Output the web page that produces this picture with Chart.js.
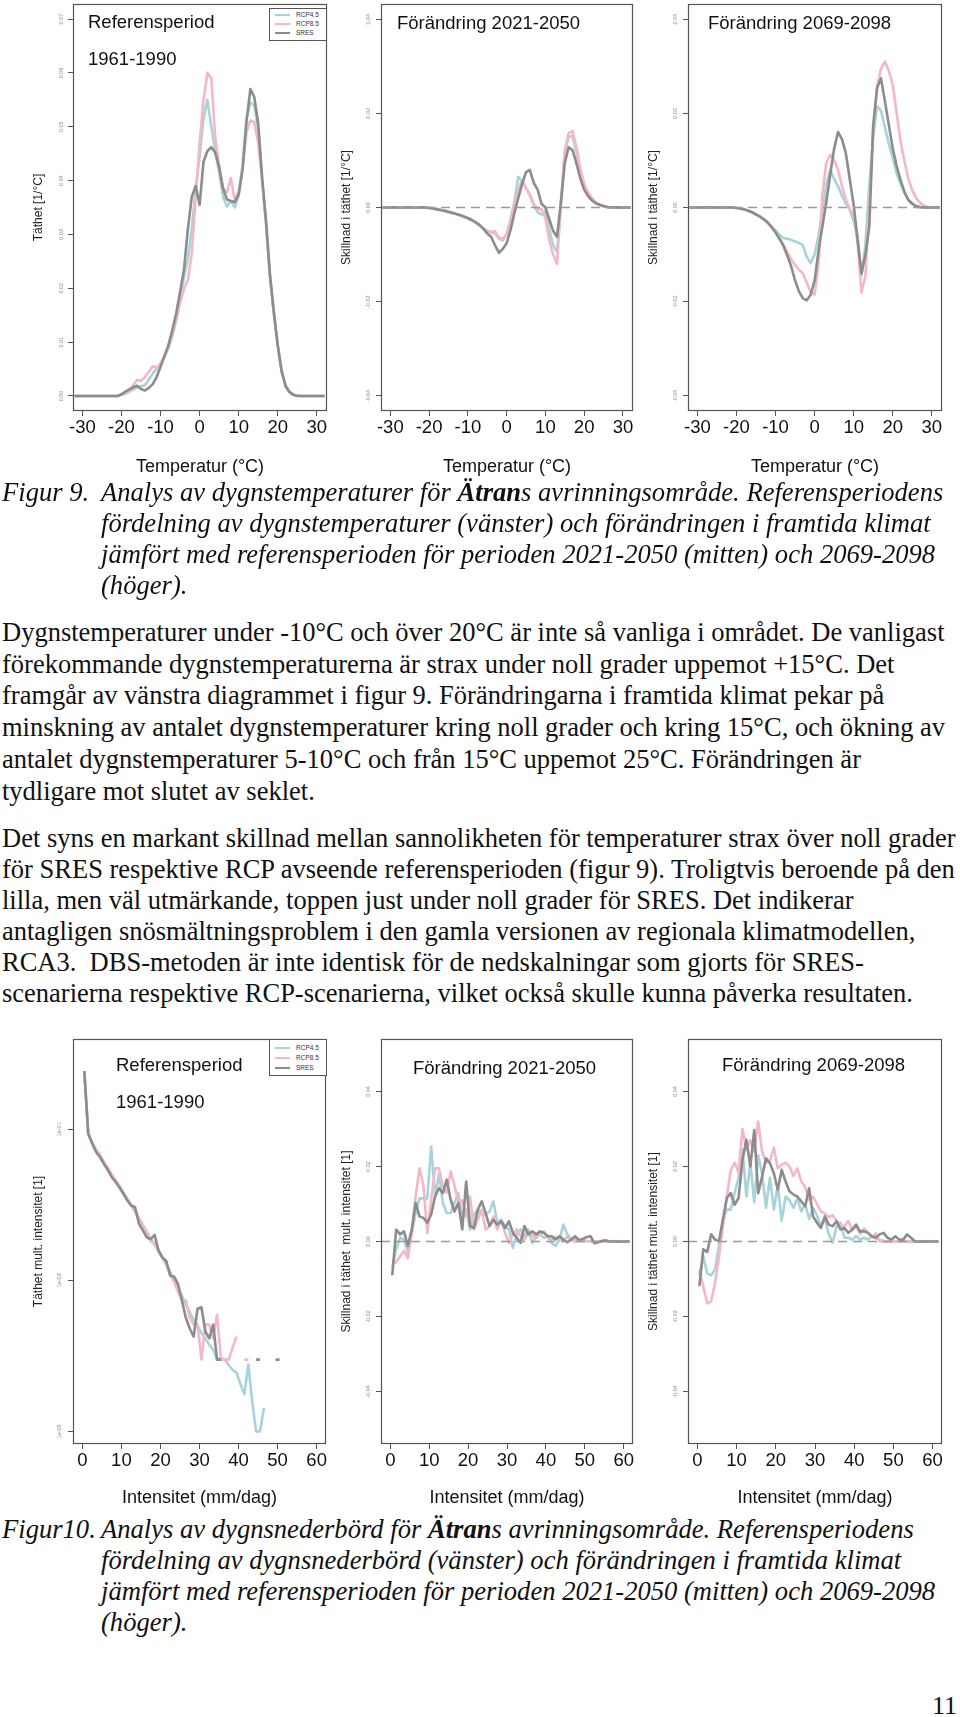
<!DOCTYPE html>
<html>
<head>
<meta charset="utf-8">
<title>Figur 9 och 10 - Ätran</title>
<script src="https://cdn.jsdelivr.net/npm/chart.js@4.4.1/dist/chart.umd.min.js"></script>
<style>
body { margin: 0; background: #fff; }
#page { position: relative; width: 960px; height: 1717px; overflow: hidden; background: #fff; }
canvas { position: absolute; }
.ptitle { position: absolute; font-family: "Liberation Sans", Arial, sans-serif; font-size: 18.5px; line-height: 18px; color: #111; white-space: nowrap; }
.legend { position: absolute; border: 1px solid #555; background: #fff; font-family: "Liberation Sans", Arial, sans-serif; font-size: 6.5px; color: #333; box-sizing: border-box; padding-top: 1px; }
.legend div { height: 9px; line-height: 9px; white-space: nowrap; }
.legend span { display: inline-block; width: 15px; height: 2px; vertical-align: middle; margin: 0 6px 0 5px; }
.txt { position: absolute; left: 2px; font-family: "Liberation Serif", "Times New Roman", serif; font-size: 26.5px; color: #111; white-space: nowrap; }
.cap { font-style: italic; font-size: 26.6px; line-height: 31px; }
.cap .lab { display: inline-block; width: 99px; }
.cap .ind { padding-left: 99px; }
#pageno { position: absolute; right: 3px; top: 1693px; font-family: "Liberation Serif", "Times New Roman", serif; font-size: 26px; line-height: 26px; color: #111; }
</style>
</head>
<body>
<div id="page">

<canvas id="c1" width="306" height="479" style="left:23px;top:2px"></canvas>
<canvas id="c2" width="304" height="479" style="left:331px;top:2px"></canvas>
<canvas id="c3" width="306" height="479" style="left:638px;top:2px"></canvas>
<canvas id="c4" width="305" height="477" style="left:23px;top:1037px"></canvas>
<canvas id="c5" width="304" height="477" style="left:331px;top:1037px"></canvas>
<canvas id="c6" width="306" height="477" style="left:638px;top:1037px"></canvas>

<div class="ptitle" style="left:88px;top:13px">Referensperiod</div>
<div class="ptitle" style="left:88px;top:50px">1961-1990</div>
<div class="ptitle" style="left:397px;top:14px">Förändring 2021-2050</div>
<div class="ptitle" style="left:708px;top:14px">Förändring 2069-2098</div>
<div class="ptitle" style="left:116px;top:1056px">Referensperiod</div>
<div class="ptitle" style="left:116px;top:1093px">1961-1990</div>
<div class="ptitle" style="left:413px;top:1059px">Förändring 2021-2050</div>
<div class="ptitle" style="left:722px;top:1056px">Förändring 2069-2098</div>

<div class="legend" style="left:269px;top:8px;width:58px;height:33px">
  <div><span style="background:#a6d3dc"></span>RCP4.5</div>
  <div><span style="background:#f4b7c5"></span>RCP8.5</div>
  <div><span style="background:#8c8c8c"></span>SRES</div>
</div>
<div class="legend" style="left:269px;top:1039px;width:58px;height:37px;padding-top:3px">
  <div style="height:10px;line-height:10px"><span style="background:#a6d3dc"></span>RCP4.5</div>
  <div style="height:10px;line-height:10px"><span style="background:#f4b7c5"></span>RCP8.5</div>
  <div style="height:10px;line-height:10px"><span style="background:#8c8c8c"></span>SRES</div>
</div>

<div class="txt cap" style="top:477px">
<div><span class="lab">Figur 9.</span>Analys av dygnstemperaturer för <b>Ätran</b>s avrinningsområde. Referensperiodens</div>
<div class="ind">fördelning av dygnstemperaturer (vänster) och förändringen i framtida klimat</div>
<div class="ind">jämfört med referensperioden för perioden 2021-2050 (mitten) och 2069-2098</div>
<div class="ind">(höger).</div>
</div>

<div class="txt" style="top:617px;line-height:31.7px">
Dygnstemperaturer under -10°C och över 20°C är inte så vanliga i området. De vanligast<br>
förekommande dygnstemperaturerna är strax under noll grader uppemot +15°C. Det<br>
framgår av vänstra diagrammet i figur 9. Förändringarna i framtida klimat pekar på<br>
minskning av antalet dygnstemperaturer kring noll grader och kring 15°C, och ökning av<br>
antalet dygnstemperaturer 5-10°C och från 15°C uppemot 25°C. Förändringen är<br>
tydligare mot slutet av seklet.
</div>

<div class="txt" style="top:823px;line-height:31.1px">
Det syns en markant skillnad mellan sannolikheten för temperaturer strax över noll grader<br>
för SRES respektive RCP avseende referensperioden (figur 9). Troligtvis beroende på den<br>
lilla, men väl utmärkande, toppen just under noll grader för SRES. Det indikerar<br>
antagligen snösmältningsproblem i den gamla versionen av regionala klimatmodellen,<br>
RCA3.&nbsp; DBS-metoden är inte identisk för de nedskalningar som gjorts för SRES-<br>
scenarierna respektive RCP-scenarierna, vilket också skulle kunna påverka resultaten.
</div>

<div class="txt cap" style="top:1514px">
<div><span class="lab">Figur10.</span>Analys av dygnsnederbörd för <b>Ätran</b>s avrinningsområde. Referensperiodens</div>
<div class="ind">fördelning av dygnsnederbörd (vänster) och förändringen i framtida klimat</div>
<div class="ind">jämfört med referensperioden för perioden 2021-2050 (mitten) och 2069-2098</div>
<div class="ind">(höger).</div>
</div>

<div id="pageno">11</div>
</div>

<script>
// ---- temperature panels (figur 9) ----
const temps = [-32,-31,-30,-29,-28,-27,-26,-25,-24,-23,-22,-21,-20,-19,-18,-17,-16,-15,-14,-13,-12,-11,-10,-9,-8,-7,-6,-5,-4,-3,-2,-1,
  0,1,2,3,4,5,6,7,8,9,10,11,12,13,14,15,16,17,18,19,20,21,22,23,24,25,26,27,28,29,30,31,32];

// referensperiod 1961-1990, täthet
const refRcp45 = [0,0,0,0,0,0,0,0,0,0,0,0,0.0002,0.0004,0.0008,0.0012,0.0016,0.0018,0.0020,0.0030,0.0042,0.0050,0.0060,0.0072,0.0088,0.0110,0.0140,0.0178,0.0220,0.0255,0.0310,0.0385,
  0.0445,0.0515,0.0550,0.0500,0.0455,0.0415,0.0370,0.0352,0.0362,0.0350,0.0372,0.0430,0.0515,0.0545,0.0540,0.0495,0.0400,0.0318,0.0222,0.0152,0.0094,0.0046,0.0019,0.0007,0.0002,0,0,0,0,0,0,0,0];
const refRcp85 = [0,0,0,0,0,0,0,0,0,0,0,0,0.0002,0.0005,0.0010,0.0020,0.0030,0.0028,0.0035,0.0045,0.0055,0.0052,0.0060,0.0075,0.0092,0.0115,0.0142,0.0172,0.0200,0.0215,0.0265,0.0370,
  0.0470,0.0550,0.0600,0.0590,0.0480,0.0426,0.0386,0.0378,0.0405,0.0362,0.0380,0.0425,0.0490,0.0512,0.0508,0.0470,0.0400,0.0320,0.0225,0.0155,0.0095,0.0048,0.0020,0.0008,0.0003,0.0001,0,0,0,0,0,0,0];
const refSres = [0,0,0,0,0,0,0,0,0,0,0,0,0.0003,0.0008,0.0012,0.0016,0.0019,0.0013,0.0010,0.0015,0.0022,0.0035,0.0054,0.0074,0.0094,0.0122,0.0153,0.0193,0.0235,0.0310,0.0370,0.0390,
  0.0355,0.0435,0.0455,0.0462,0.0452,0.0425,0.0385,0.0365,0.0362,0.0360,0.0375,0.0420,0.0510,0.0570,0.0555,0.0505,0.0405,0.0325,0.0225,0.0155,0.0093,0.0045,0.0018,0.0007,0.0002,0,0,0,0,0,0,0,0];

// förändring 2021-2050
const mid45 = [0,0,0,0,0,0,0,0,0,0,0,0,-0.0001,-0.0002,-0.0003,-0.0005,-0.0007,-0.0010,-0.0012,-0.0014,-0.0017,-0.0020,-0.0024,-0.0028,-0.0032,-0.0038,-0.0045,-0.0050,-0.0053,-0.0055,-0.0066,-0.0070,
  -0.0056,-0.0025,0.0012,0.0065,0.0055,0.0042,0.0025,0.0005,-0.0010,-0.0015,-0.0008,-0.0045,-0.0080,-0.0095,0.0012,0.0115,0.0150,0.0152,0.0118,0.0075,0.0046,0.0029,0.0018,0.0010,0.0005,0.0002,0.0001,0,0,0,0,0,0];
const mid85 = [0,0,0,0,0,0,0,0,0,0,0,0,-0.0001,-0.0002,-0.0003,-0.0005,-0.0007,-0.0010,-0.0012,-0.0014,-0.0017,-0.0020,-0.0024,-0.0028,-0.0032,-0.0038,-0.0045,-0.0049,-0.0052,-0.0050,-0.0064,-0.0066,
  -0.0058,-0.0030,0.0005,0.0040,0.0058,0.0040,0.0028,0.0008,-0.0004,-0.0003,-0.0022,-0.0070,-0.0100,-0.0120,0.0005,0.0120,0.0158,0.0162,0.0128,0.0082,0.0050,0.0032,0.0020,0.0011,0.0006,0.0003,0.0001,0,0,0,0,0,0];
const midSres = [0,0,0,0,0,0,0,0,0,0,0,0,-0.0001,-0.0002,-0.0004,-0.0006,-0.0007,-0.0009,-0.0011,-0.0014,-0.0016,-0.0019,-0.0022,-0.0026,-0.0031,-0.0037,-0.0045,-0.0055,-0.0062,-0.0080,-0.0096,-0.0088,
  -0.0076,-0.0048,-0.0012,0.0020,0.0050,0.0075,0.0080,0.0052,0.0038,0.0008,0.0000,-0.0025,-0.0050,-0.0062,0.0010,0.0094,0.0128,0.0122,0.0094,0.0062,0.0038,0.0024,0.0015,0.0009,0.0006,0.0003,0.0001,0,0,0,0,0,0];

// förändring 2069-2098
const end45 = [0,0,0,0,0,0,0,0,0,0,0,0,-0.0001,-0.0002,-0.0004,-0.0007,-0.0010,-0.0015,-0.0020,-0.0026,-0.0033,-0.0040,-0.0048,-0.0058,-0.0065,-0.0066,-0.0069,-0.0072,-0.0075,-0.0080,-0.0105,-0.0118,
  -0.0100,-0.0060,-0.0005,0.0050,0.0080,0.0060,0.0045,0.0025,0.0008,-0.0005,-0.0030,-0.0060,-0.0145,-0.0080,0.0050,0.0150,0.0215,0.0205,0.0170,0.0135,0.0105,0.0072,0.0050,0.0030,0.0016,0.0007,0.0002,0,0,0,0,0,0];
const end85 = [0,0,0,0,0,0,0,0,0,0,0,0,-0.0001,-0.0002,-0.0004,-0.0007,-0.0010,-0.0014,-0.0019,-0.0025,-0.0032,-0.0041,-0.0052,-0.0065,-0.0080,-0.0095,-0.0110,-0.0122,-0.0132,-0.0140,-0.0160,-0.0180,
  -0.0185,-0.0120,0.0030,0.0095,0.0112,0.0100,0.0080,0.0045,0.0016,-0.0002,-0.0018,-0.0075,-0.0180,-0.0145,0.0000,0.0170,0.0255,0.0295,0.0310,0.0290,0.0260,0.0200,0.0140,0.0098,0.0060,0.0037,0.0020,0.0010,0.0004,0.0001,0,0,0];
const endSres = [0,0,0,0,0,0,0,0,0,0,0,0,-0.0001,-0.0002,-0.0004,-0.0007,-0.0010,-0.0015,-0.0019,-0.0025,-0.0032,-0.0042,-0.0053,-0.0066,-0.0081,-0.0102,-0.0125,-0.0155,-0.0178,-0.0193,-0.0197,-0.0185,
  -0.0155,-0.0092,-0.0040,0.0012,0.0070,0.0125,0.0160,0.0145,0.0115,0.0060,0.0005,-0.0069,-0.0140,-0.0100,-0.0040,0.0175,0.0255,0.0274,0.0225,0.0175,0.0125,0.0088,0.0058,0.0033,0.0016,0.0008,0.0003,0.0001,0,0,0,0,0];

// ---- precipitation panels (figur 10) ----
const intens = [0.5,1.5,2.5,3.5,4.5,5.5,6.5,7.5,8.5,9.5,10.5,11.5,12.5,13.5,14.5,15.5,16.5,17.5,18.5,19.5,20.5,21.5,22.5,23.5,24.5,25.5,26.5,27.5,28.5,29.5,30.5,
  31.5,32.5,33.5,34.5,35.5,36.5,37.5,38.5,39.5,40.5,41.5,42.5,43.5,44.5,45.5,46.5,47.5,48.5,49.5,50.5,51.5,52.5,53.5,54.5,55.5,56.5,57.5,58.5,59.5,60.5,61.5];

// referensperiod, täthet mult. intensitet (log)
const pRef45 = [0.59,0.088,0.067,0.052,0.045,0.037,0.031,0.025,0.021,0.0175,0.0145,0.012,0.0098,0.0080,0.0066,0.0054,0.0044,0.0036,0.0030,0.0025,0.0020,0.0016,0.0013,0.0010,0.00080,0.00062,0.00048,0.00038,0.00030,0.00025,0.00020,
  0.00017,0.00014,0.00012,0.000089,0.000095,0.000089,0.000075,0.000065,0.000060,0.000042,0.000031,0.000077,0.000025,0.00001,0.00001,0.0000204,null,null,null,null,null,null,null,null,null,null,null,null,null,null,null];
const pRef85 = [0.59,0.09,0.068,0.054,0.046,0.037,0.031,0.025,0.021,0.018,0.0145,0.012,0.0098,0.0082,0.0068,0.0052,0.0044,0.0033,0.0030,0.0024,0.0020,0.0016,0.0012,0.00095,0.00070,0.00054,0.00054,0.00032,0.00026,0.00026,0.000089,
  0.00026,0.00026,0.00017,0.00035,0.000089,0.000089,0.000089,0.00013,0.00018,null,0.000089,0.000089,null,null,null,null,null,null,null,null,null,null,null,null,null,null,null,null,null,null,null];
const pRefSres = [0.59,0.087,0.065,0.050,0.043,0.035,0.029,0.0234,0.020,0.017,0.014,0.0115,0.0098,0.0093,0.0056,0.0046,0.0037,0.0035,0.0040,0.0025,0.0020,0.0018,0.00115,0.00112,0.00089,0.00054,0.00032,0.00023,0.00018,0.00042,0.00044,
  0.00021,0.00017,0.00026,0.000089,0.000089,null,null,null,null,null,null,null,null,0.000089,0.000089,null,null,null,0.000089,0.000089,null,null,null,null,null,null,null,null,null,null,null];

// förändring 2021-2050
const pMid45 = [-0.007,-0.002,0.001,0.0005,-0.003,0.002,0.0075,0.0115,0.0115,0.0115,0.0253,0.012,0.018,0.0103,0.0076,0.0076,0.0103,0.0129,0.0067,0.0085,0.0032,0.0072,0.0085,0.0072,0.0072,0.0080,0.0107,0.0050,0.0058,0.0041,0.0032,
  -0.0017,0.0019,0.0032,0.0014,0.0032,-0.0004,0.0014,0.0019,0.0010,0.0014,-0.0004,-0.0012,0.0005,0.0045,0.0019,0.0005,0.0007,0.0000,0.0005,0.0000,0.0002,0,0,0,0,0,0,0,0,0,0];
const pMid85 = [-0.006,-0.0055,-0.004,-0.0025,-0.0045,0.002,0.0120,0.0195,0.0150,0.0023,0.0110,0.0195,0.0195,0.0147,0.0130,0.0187,0.0150,0.0103,0.0110,0.0067,0.0120,0.0032,0.0058,0.0085,0.0032,0.0041,0.0067,0.0032,0.0058,0.0023,-0.0004,
  0.0019,0.0032,0.0014,0.0005,0.0023,0.0016,0.0010,0.0019,0.0027,0.0010,0.0005,0.0012,0.0007,0.0004,0.0012,0.0004,0,0.0004,0,0.0002,0,0,0,0,0,0,0,0,0,0,0];
const pMidSres = [-0.009,0.0032,0.0019,0.0027,-0.0012,0.0032,0.0103,0.0067,0.0063,0.0050,0.0072,0.0120,0.0142,0.0129,0.0165,0.0112,0.0080,0.0103,0.0032,0.0160,0.0041,0.0036,0.0085,0.0107,0.0076,0.0041,0.0058,0.0045,0.0054,0.0036,0.0054,
  0.0023,0.0010,-0.0004,0.0041,0.0019,0.0027,0.0019,0.0027,0.0023,0.0014,0.0014,0.0005,0.0014,0.0005,-0.0002,0.0005,0.0014,0.0004,0.0007,0.0012,0.0014,-0.0005,-0.0002,0.0002,0.0003,0,0,0,0,0,0];

// förändring 2069-2098
const pEnd45 = [-0.009,-0.004,-0.0085,-0.0090,-0.0075,-0.0010,0.0055,0.0085,0.0085,0.0130,0.0170,0.0245,0.0120,0.0210,0.0105,0.0230,0.0180,0.0090,0.0170,0.0085,0.0150,0.0055,0.0120,0.0110,0.0090,0.0115,0.0080,0.0100,0.0060,0.0090,0.0070,
  0.0040,0.0060,0.0020,-0.0003,0.0040,0.0050,0.0010,0.0010,0.0005,0.0015,0.0005,0.0010,0.0005,0.0015,0.0008,0.0005,0.0002,0,0,0,0,0,0,0,0,0,0,0,0,0,0];
const pEnd85 = [-0.0075,-0.012,-0.0165,-0.0160,-0.0110,-0.0040,0.0040,0.0120,0.0190,0.0210,0.0185,0.0300,0.0245,0.0270,0.0240,0.0320,0.0240,0.0210,0.0215,0.0250,0.0195,0.0205,0.0210,0.0200,0.0175,0.0195,0.0160,0.0145,0.0110,0.0120,0.0100,
  0.0080,0.0075,0.0065,0.0070,0.0055,0.0045,0.0040,0.0055,0.0030,0.0040,0.0020,0.0035,0.0025,0.0010,0.0022,0,0,0,0,0,0,0,0,0,0,0,0,0,0,0,0];
const pEndSres = [-0.0119,-0.0021,-0.0028,0.0019,0.0005,0.0001,0.0058,0.0116,0.0129,0.0098,0.0116,0.0218,0.0271,0.0200,0.0297,0.0129,0.0173,0.0222,0.0209,0.0182,0.0138,0.0191,0.0160,0.0134,0.0125,0.0120,0.0107,0.0094,0.0142,0.0067,0.0050,
  0.0036,0.0067,0.0045,0.0041,0.0054,0.0032,0.0036,0.0023,0.0032,0.0045,0.0027,0.0027,0.0023,0.0014,0.0010,0.0019,0.0023,0.0010,0.0005,0.0014,0.0005,0.0005,0.0019,0.0010,0,0,0,0,0,0,0];

const logTickValues = [1e-5, 1e-3, 1e-1];
const logTickLabels = ['1e-05', '1e-03', '1e-01'];

const blueCol = '#a6d3dc';
const pinkCol = '#f4b7c5';
const grayCol = '#8c8c8c';
const sans = '"Liberation Sans", Arial, sans-serif';

// ram runt ritytan, som i R
const boxPlugin = {
  id: 'box',
  afterDraw(chart) {
    const a = chart.chartArea, c = chart.ctx;
    c.save();
    c.strokeStyle = '#555';
    c.lineWidth = 1.2;
    c.strokeRect(Math.round(a.left) + 0.5, Math.round(a.top) + 0.5, Math.round(a.right - a.left) - 1, Math.round(a.bottom - a.top) - 1);
    c.restore();
  }
};

function lineSet(xs, ys, color) {
  return {
    data: xs.map((x, i) => ({ x: x, y: ys[i] })),
    borderColor: color, borderWidth: 2.6, pointRadius: 0, tension: 0,
    fill: false, spanGaps: false, borderJoinStyle: 'round'
  };
}

function drawPanel(id, xs, blue, pink, gray, o) {
  const sets = [];
  if (o.zero) {
    sets.push({ data: [{ x: o.xmin, y: 0 }, { x: o.xmax, y: 0 }], borderColor: '#9a9a9a',
      borderWidth: 1.4, borderDash: [9, 6], pointRadius: 0 });
  }
  sets.push(lineSet(xs, gray, grayCol));
  sets.push(lineSet(xs, pink, pinkCol));
  sets.push(lineSet(xs, blue, blueCol));

  const yScale = {
    type: o.log ? 'logarithmic' : 'linear',
    min: o.ymin, max: o.ymax,
    grid: { drawOnChartArea: false, drawTicks: true, tickLength: 5, color: '#555' },
    border: { display: false },
    ticks: {
      minRotation: 90, maxRotation: 90, crossAlign: 'center', padding: 1,
      autoSkip: false, color: '#888', font: { family: sans, size: 5.5 }
    },
    title: { display: true, text: o.ytitle, color: '#222', font: { family: sans, size: 12 }, padding: { top: 8, bottom: 0 } },
    afterFit: s => { s.width = 50; s.paddingTop = 0; s.paddingBottom = 0; }
  };
  if (o.log) {
    yScale.afterBuildTicks = s => { s.ticks = logTickValues.map(v => ({ value: v })); };
    yScale.ticks.callback = (v, i) => logTickLabels[i];
  } else {
    yScale.ticks.stepSize = o.ystep;
    yScale.ticks.includeBounds = false;
    yScale.ticks.callback = v => Number(v).toFixed(2);
  }

  new Chart(document.getElementById(id), {
    type: 'line',
    data: { datasets: sets },
    options: {
      responsive: false, animation: false, devicePixelRatio: 1,
      layout: { padding: { top: 2, right: 2, left: 0, bottom: 0 } },
      plugins: { legend: { display: false }, tooltip: { enabled: false } },
      scales: {
        x: {
          type: 'linear', min: o.xmin, max: o.xmax,
          grid: { drawOnChartArea: false, drawTicks: true, tickLength: 5, color: '#555' },
          border: { display: false },
          ticks: { stepSize: 10, includeBounds: false, autoSkip: false, maxRotation: 0, padding: 1,
            color: '#111', font: { family: sans, size: 18.5 }, callback: v => String(Math.round(v)) },
          title: { display: true, text: o.xtitle, color: '#111', font: { family: sans, size: 18 }, padding: { top: 0, bottom: o.tpad } },
          afterFit: s => { s.height = 70; s.paddingLeft = 0; s.paddingRight = 0; }
        },
        y: yScale
      }
    },
    plugins: [boxPlugin]
  });
}

const tX = { xmin: -32.4, xmax: 32.6, xtitle: 'Temperatur (°C)', tpad: 3 };
const pX = { xmin: -2.4, xmax: 62.4, xtitle: 'Intensitet (mm/dag)', tpad: 5 };

drawPanel('c1', temps, refRcp45, refRcp85, refSres, Object.assign({}, tX,
  { ymin: -0.0028, ymax: 0.0728, ystep: 0.01, ytitle: 'Täthet [1/°C]' }));
drawPanel('c2', temps, mid45, mid85, midSres, Object.assign({}, tX,
  { ymin: -0.0432, ymax: 0.0432, ystep: 0.02, zero: true, ytitle: 'Skillnad i täthet [1/°C]' }));
drawPanel('c3', temps, end45, end85, endSres, Object.assign({}, tX,
  { ymin: -0.0432, ymax: 0.0432, ystep: 0.02, zero: true, ytitle: 'Skillnad i täthet [1/°C]' }));
drawPanel('c4', intens, pRef45, pRef85, pRefSres, Object.assign({}, pX,
  { log: true, ymin: 6.8e-6, ymax: 1.57, ytitle: 'Täthet mult. intensitet [1]' }));
drawPanel('c5', intens, pMid45, pMid85, pMidSres, Object.assign({}, pX,
  { ymin: -0.054, ymax: 0.054, ystep: 0.02, zero: true, ytitle: 'Skillnad i täthet  mult. intensitet [1]' }));
drawPanel('c6', intens, pEnd45, pEnd85, pEndSres, Object.assign({}, pX,
  { ymin: -0.054, ymax: 0.054, ystep: 0.02, zero: true, ytitle: 'Skillnad i täthet mult. intensitet [1]' }));
</script>
</body>
</html>
